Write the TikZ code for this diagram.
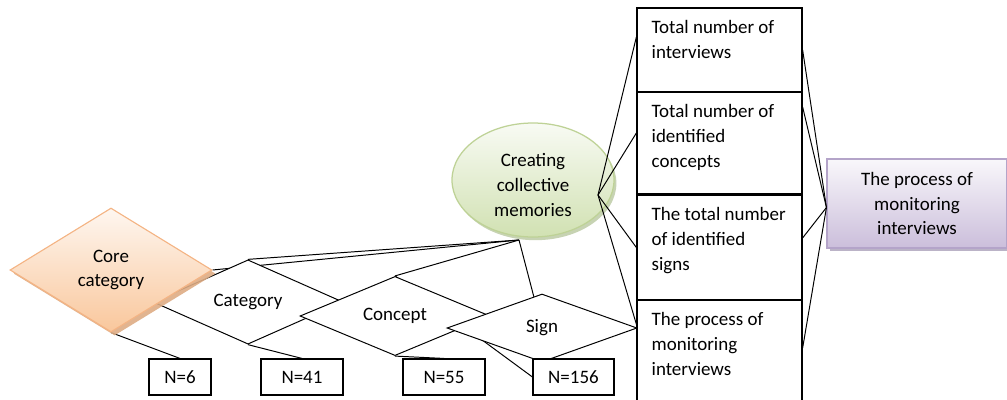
\documentclass[tikz,border=0pt]{standalone}
\usepackage{fontspec}
\setmainfont{Carlito}
\usetikzlibrary{shapes.geometric,shadows,backgrounds}
\usepackage{xcolor}
\definecolor{peach}{RGB}{249,199,156}
\definecolor{peachline}{RGB}{244,180,132}
\definecolor{peachshade}{RGB}{222,172,132}
\definecolor{sage}{RGB}{209,225,178}
\definecolor{sageline}{RGB}{190,210,150}
\definecolor{sageshade}{RGB}{185,200,160}
\definecolor{lilac}{RGB}{203,190,219}
\definecolor{lilacline}{RGB}{180,164,201}
\definecolor{lilacshade}{RGB}{170,160,185}

\begin{document}
\begin{tikzpicture}[
        font=\fontsize{13.5}{17.7}\selectfont,
        link/.style={-, line width=0.7pt},
        decision/.style={diamond, draw, fill=white, line width=0.7pt, minimum width=4.75cm, minimum height=1.7cm, inner sep=0pt},
        coreshape/.style={diamond, draw=peachline, line width=0.8pt, top color=white!85!peach, bottom color=peach, minimum width=5.05cm, minimum height=3.1cm, inner sep=0pt, align=center,
            drop shadow={shadow xshift=0.09cm, shadow yshift=-0.09cm, fill=peachshade, opacity=0.9}},
        countbox/.style={rectangle, draw, line width=0.8pt, fill=white, minimum height=0.9cm, inner sep=0pt},
        infobox/.style={rectangle, draw, line width=0.9pt, fill=white, minimum width=4.125cm, inner sep=0pt},
        boxtext/.style={anchor=north west, align=left, inner sep=0pt, xshift=0.375cm, yshift=-0.325cm},
        memory/.style={ellipse, draw=sageline, line width=0.9pt, top color=white!85!sage, bottom color=sage, minimum width=4.05cm, minimum height=2.85cm, inner sep=0pt, align=center,
            drop shadow={shadow xshift=0.06cm, shadow yshift=-0.08cm, fill=sageshade, opacity=0.8}},
        outcome/.style={rectangle, draw=lilacline, line width=0.8pt, top color=white!88!lilac, bottom color=lilac, minimum width=4.5cm, minimum height=2.225cm, align=center,
            drop shadow={shadow xshift=0.08cm, shadow yshift=-0.08cm, fill=lilacshade, opacity=0.8}}
      ]
      \useasboundingbox (0,0) rectangle (25.175,9.975);
      \clip (0,0) rectangle (25.175,9.975);

      % Points where the connectors meet
      \coordinate (memlow) at (12.975,3.975);
      \coordinate (memright) at (14.95,5.1);

      % Diamonds (later ones lie on top)
      \node[decision] (cat) at (6.2,2.425) {Category};
      \node[decision] (con) at (9.875,2.075) {Concept};
      \node[decision] (sig) at (13.55,1.775) {Sign};
      \node[coreshape] (core) at (2.775,3.225) {Core\\category};

      % Counts
      \node[countbox, minimum width=1.55cm] (n6) at (4.5,0.55) {N=6};
      \node[countbox, minimum width=2.05cm] (n41) at (7.55,0.55) {N=41};
      \node[countbox, minimum width=2.05cm] (n55) at (11.1,0.55) {N=55};
      \node[countbox, minimum width=2.025cm] (n156) at (14.3375,0.55) {N=156};

      % Central ellipse
      \node[memory] (mem) at (13.325,5.475) {\rule{0pt}{16.5pt}Creating\\collective\\memories};

      % Column of measures
      \node[infobox, minimum height=2.1cm, label={[boxtext]north west:{Total number of\\interviews}}] (tot1) at (17.9875,8.725) {};
      \node[infobox, minimum height=2.55cm, label={[boxtext]north west:{Total number of\\identified\\concepts}}] (tot2) at (17.9875,6.4) {};
      \node[infobox, minimum height=2.625cm, label={[boxtext]north west:{The total number\\of identified\\signs}}] (tot3) at (17.9875,3.7875) {};
      \node[infobox, minimum height=3cm, label={[boxtext]north west:{The process of\\monitoring\\interviews}}] (tot4) at (17.9875,0.975) {};

      % Links behind the shapes
      \begin{pgfonlayer}{background}
        \draw[link] (memlow) -- (core.east);
        \draw[link] (memlow) -- (cat.north);
        \draw[link] (memlow) -- (con.north);
        \draw[link] (memlow) -- (sig.center);
        \draw[link] (con.north) -- (n156.west);
        \draw[link] (core.south) -- (n6.north);
        \draw[link] (cat.south) -- (n41.north);
        \draw[link] (con.south) -- (n55.north);
      \end{pgfonlayer}

      % Links from the ellipse to the measures
      \draw[link] (memright) -- ([yshift=0.325cm]tot1.west);
      \draw[link] (memright) -- ([yshift=0.25cm]tot2.west);
      \draw[link] (memright) -- (tot3.west);
      \draw[link] (memright) -- (sig.east);

      % Measures to the outcome
      \node[outcome] (proc) at (22.925,4.8875) {The process of\\monitoring\\interviews};
      \draw[link] (tot1.east) -- ([yshift=-0.1cm]proc.west);
      \draw[link] ([yshift=0.9cm]tot2.east) -- ([yshift=-0.1cm]proc.west);
      \draw[link] ([yshift=0.24cm]tot3.east) -- ([yshift=-0.1cm]proc.west);
      \draw[link] ([yshift=0.3cm]tot4.east) -- ([yshift=-0.1cm]proc.west);

    \end{tikzpicture}
\end{document}
